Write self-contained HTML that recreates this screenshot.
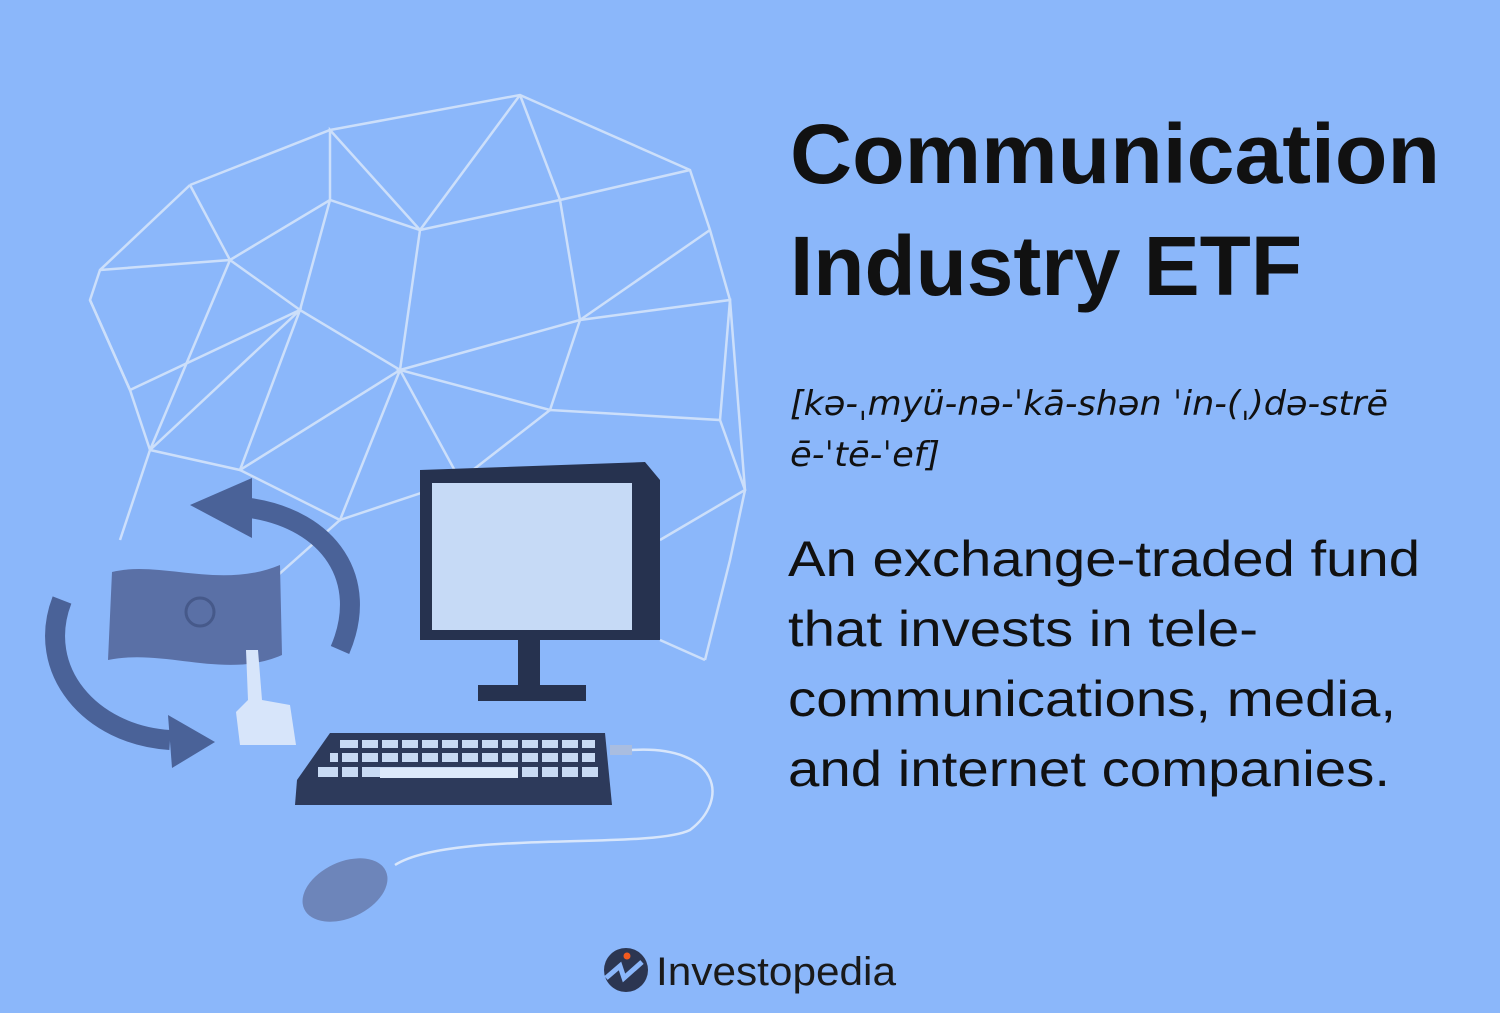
<!DOCTYPE html>
<html><head><meta charset="utf-8"><style>
html,body{margin:0;padding:0;background:#8bb7fa;}
svg{display:block}
</style></head><body>
<svg width="1500" height="1013" viewBox="0 0 1500 1013">
<rect width="1500" height="1013" fill="#8bb7fa"/>
<g stroke="#d8e6fb" stroke-width="2.5" fill="none" opacity="0.85">
<polyline points="190,185 330,130 520,95 690,170 710,230 730,300 745,490 730,560 705,660"/>
<polyline points="190,185 100,270 90,300 130,390 150,450 120,540"/>
<polyline points="100,270 230,260 330,200 420,230 520,95"/>
<polyline points="190,185 230,260 300,310 330,200 330,130 420,230 560,200 690,170"/>
<polyline points="420,230 400,370 300,310 150,450 230,260"/>
<polyline points="560,200 580,320 400,370 550,410 580,320 710,230"/>
<polyline points="560,200 520,95"/>
<polyline points="580,320 730,300 720,420 550,410 460,480"/>
<polyline points="130,390 300,310 240,470 150,450"/>
<polyline points="400,370 240,470 340,520 400,370 460,480 340,520 250,600"/>
<polyline points="720,420 745,490 660,540"/>
<polyline points="90,300 130,390"/>
<polyline points="660,640 705,660"/>
</g>
<g>
<path d="M340,650 C370,580 330,520 250,508" stroke="#4a6298" stroke-width="20" fill="none"/>
<polygon points="190,505 252,478 252,538" fill="#4a6298"/>
</g>
<g>
<path d="M62,600 C35,670 90,735 170,740" stroke="#4a6298" stroke-width="20" fill="none"/>
<polygon points="215,742 168,715 172,768" fill="#4a6298"/>
</g>
<path d="M112,572 C160,560 220,590 280,565 L282,655 C225,680 165,648 108,660 Z" fill="#5a70a6"/>
<circle cx="200" cy="612" r="14" fill="none" stroke="#46598a" stroke-width="3"/>
<path d="M246,650 L258,650 L262,700 L290,705 L296,745 L240,745 L236,712 L248,700 Z" fill="#d7e5fa"/>
<g>
<polygon points="420,470 645,462 660,480 660,640 420,640" fill="#26324f"/>
<rect x="432" y="483" width="200" height="147" fill="#c6daf6"/>
<rect x="518" y="640" width="22" height="48" fill="#26324f"/>
<rect x="478" y="685" width="108" height="16" fill="#26324f"/>
</g>
<g>
<polygon points="330,733 605,733 612,805 295,805 297,780" fill="#2d3a5b"/>
<g fill="#c8daf4">
<rect x="340" y="740" width="255" height="8"/>
<rect x="330" y="753" width="265" height="9"/>
<rect x="318" y="767" width="280" height="10"/>
<rect x="380" y="768" width="140" height="10" fill="#dce8fa"/>
</g>
<g stroke="#2d3a5b" stroke-width="4">
<path d="M360,738V780M380,738V765M400,738V765M420,738V765M440,738V765M460,738V765M480,738V765M500,738V765M520,738V780M540,738V780M560,738V780M580,738V780M340,748V780"/>
</g>
<rect x="610" y="745" width="22" height="10" fill="#a9bde0"/>
</g>
<path d="M632,750 C720,745 730,800 690,830 C650,850 450,830 395,865" stroke="#d8e6fb" stroke-width="2.5" fill="none"/>
<ellipse cx="345" cy="890" rx="45" ry="28" transform="rotate(-25 345 890)" fill="#6d85ba"/>
<text x="790" y="183" font-family="Liberation Sans, sans-serif" font-weight="bold" font-size="84" fill="#111" textLength="650" lengthAdjust="spacingAndGlyphs">Communication</text>
<text x="790" y="295" font-family="Liberation Sans, sans-serif" font-weight="bold" font-size="84" fill="#111" textLength="512" lengthAdjust="spacingAndGlyphs">Industry ETF</text>
<g font-family="DejaVu Sans, sans-serif" font-style="italic" font-size="34" fill="#111">
<text x="790" y="415" textLength="598" lengthAdjust="spacingAndGlyphs">[kə-ˌmyü-nə-ˈkā-shən ˈin-(ˌ)də-strē</text>
<text x="790" y="466" textLength="150" lengthAdjust="spacingAndGlyphs">ē-ˈtē-ˈef]</text>
</g>
<g font-family="Liberation Sans, sans-serif" font-size="50" fill="#111">
<text x="788" y="576" textLength="632" lengthAdjust="spacingAndGlyphs">An exchange-traded fund</text>
<text x="788" y="646" textLength="470" lengthAdjust="spacingAndGlyphs">that invests in tele-</text>
<text x="788" y="716" textLength="608" lengthAdjust="spacingAndGlyphs">communications, media,</text>
<text x="788" y="786" textLength="602" lengthAdjust="spacingAndGlyphs">and internet companies.</text>
</g>
<g>
<circle cx="626" cy="970" r="22" fill="#2c3651"/>
<path d="M606,978 L620,966 L624,978 L642,962" stroke="#8bb7fa" stroke-width="5" fill="none"/>
<circle cx="627" cy="956" r="3.5" fill="#f25a1e"/>
<text x="656" y="985" font-family="Liberation Sans, sans-serif" font-size="40" fill="#1a1a1a" textLength="240" lengthAdjust="spacingAndGlyphs">Investopedia</text>
</g>
</svg>
</body></html>
